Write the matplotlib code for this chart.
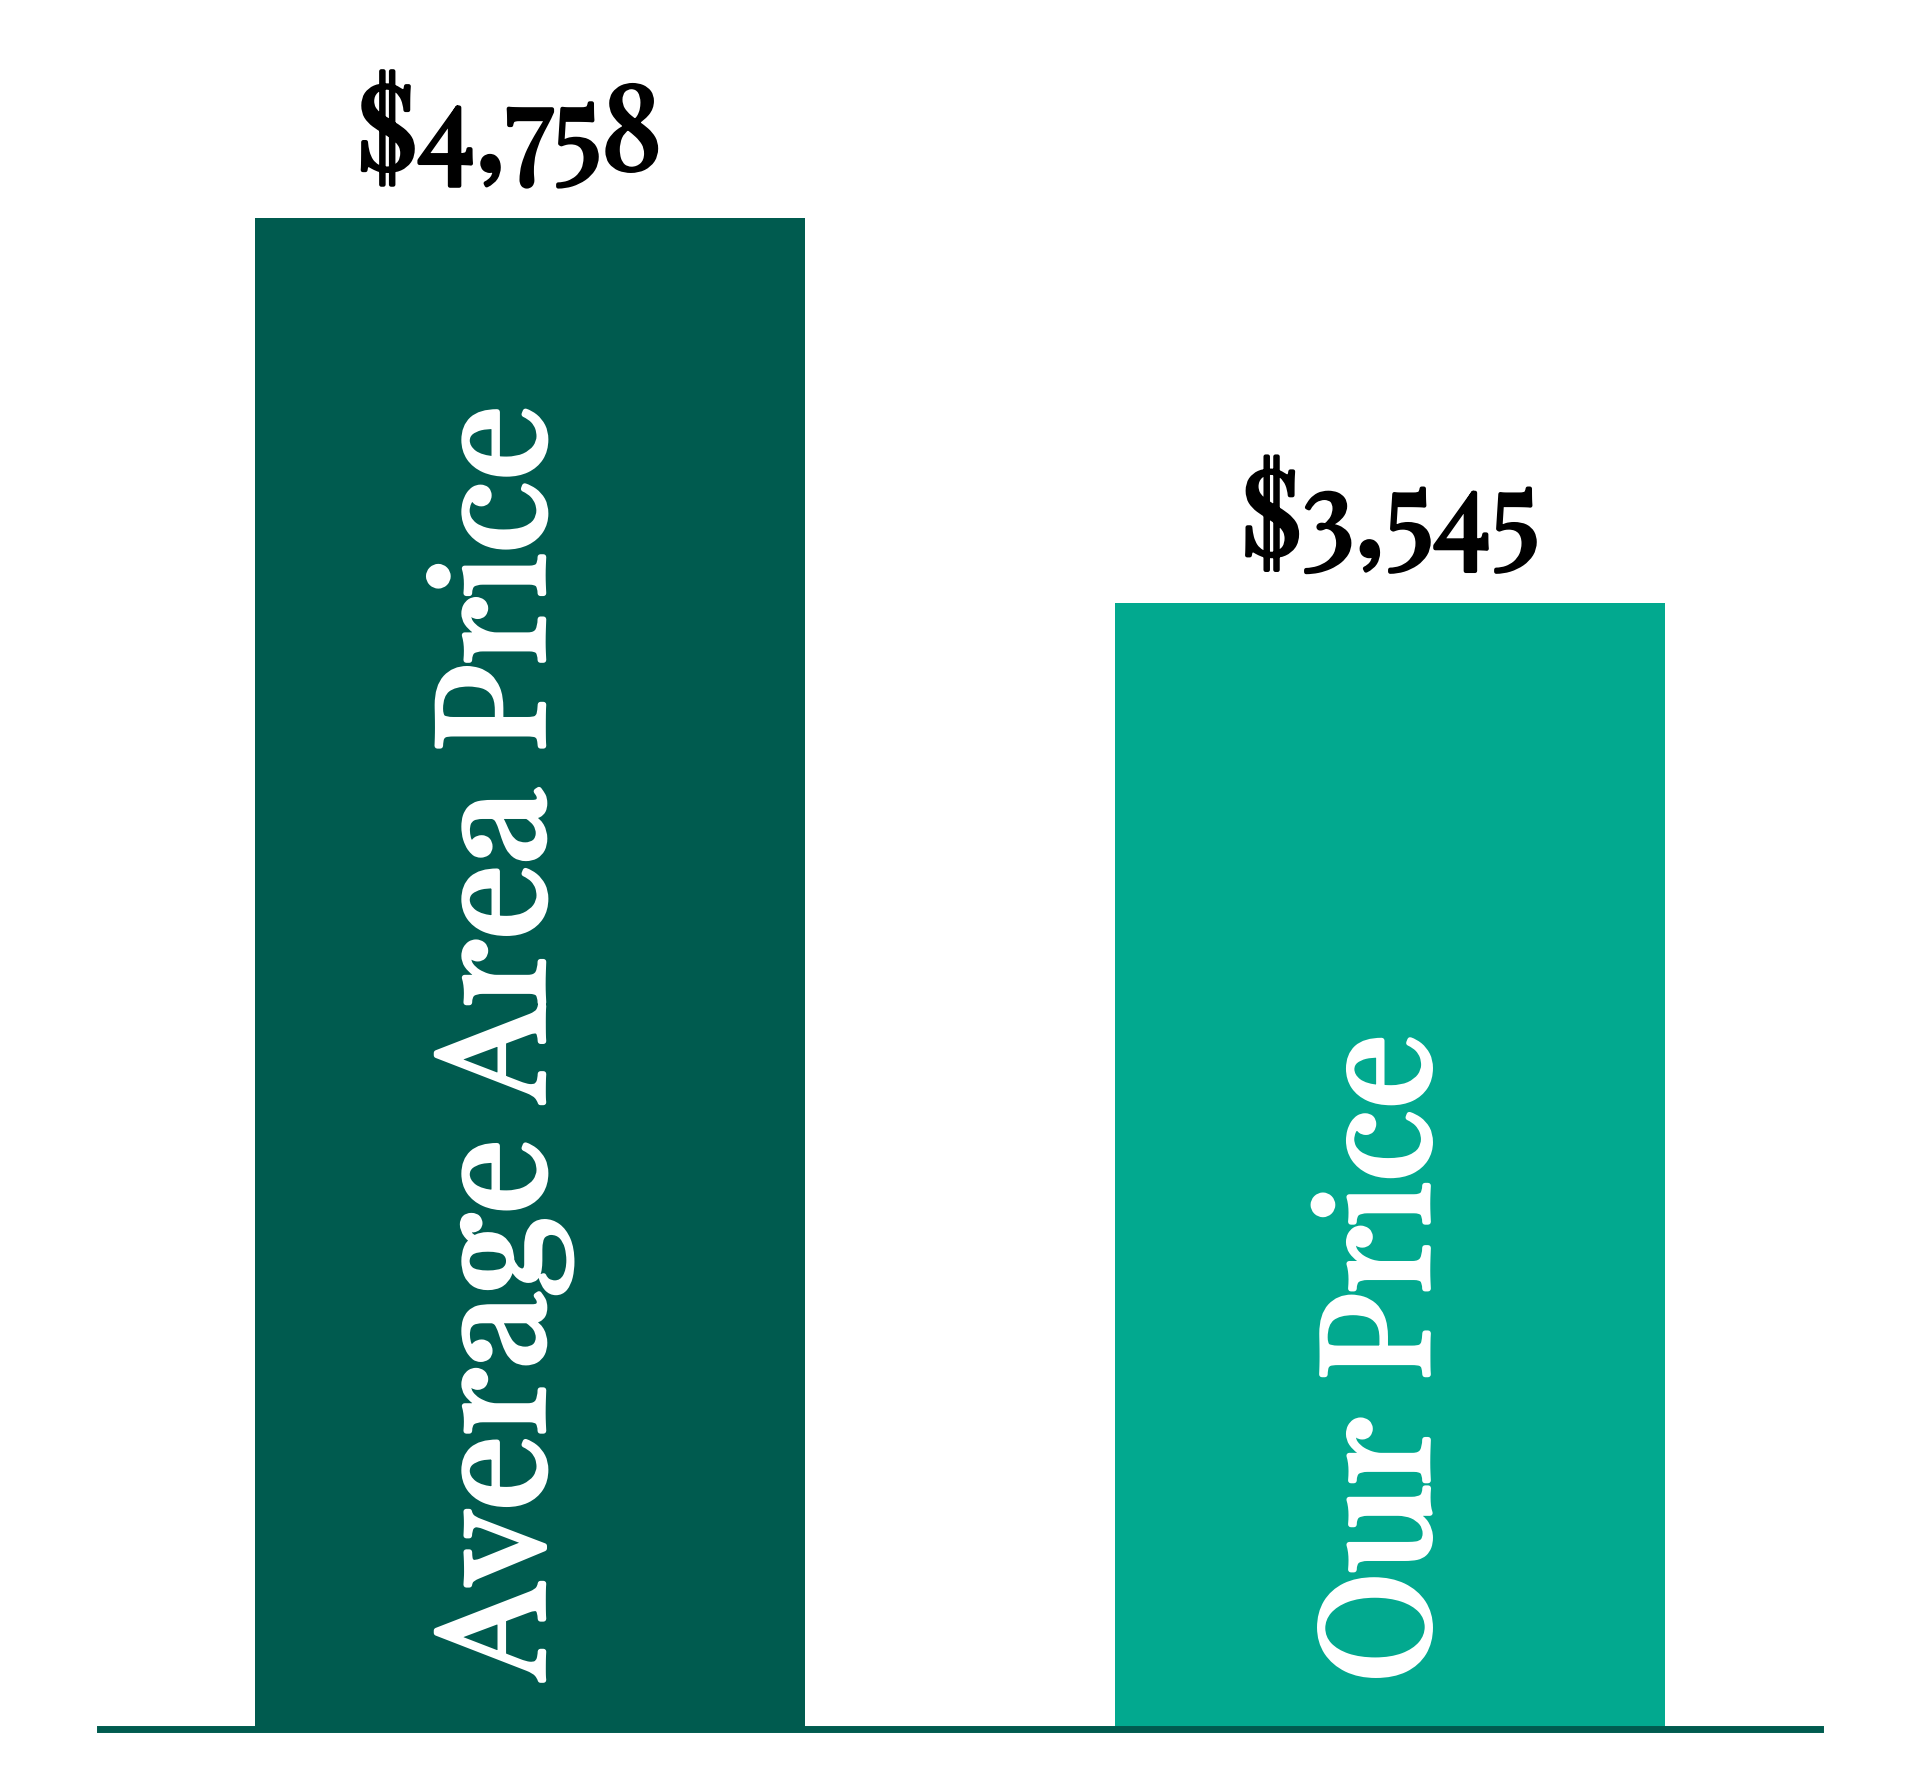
import matplotlib
matplotlib.use("Agg")
import matplotlib.pyplot as plt
import matplotlib.patheffects as pe

# chart data
categories = ["Average Area Price", "Our Price"]
prices = [4758, 3545]
value_labels = ["$4,758", "$3,545"]
bar_colors = ["#005b4f", "#02a98f"]

FONT = "Playfair Display"

fig = plt.figure(figsize=(19.2, 17.92), dpi=100)
ax = fig.add_axes([100 / 1920, 63 / 1792, 1720 / 1920, 1 - 63 / 1792])

x = list(range(len(categories)))
ax.bar(x, prices, width=0.64, color=bar_colors, zorder=1)

ax.set_xlim(-0.5, 1.5)
ax.set_ylim(0, 5444)

# the installed Playfair is the regular cut, so thicken it with a stroke
def bold(color, w):
    return [pe.withStroke(linewidth=w, foreground=color)]

# value labels above the bars
label_dx = [-15, 0]
for xi, val, lab, dx in zip(x, prices, value_labels, label_dx):
    ax.annotate(lab, (xi, val), xytext=(dx, 35), textcoords="offset points",
                ha="center", va="baseline", fontsize=84, family=FONT,
                color="black", path_effects=bold("black", 3))

# category names written up inside the bars
name_dx = [-22, -5]
name_dy = [36, 33]
for xi, cat, dx, dy in zip(x, categories, name_dx, name_dy):
    ax.annotate(cat, (xi, 0), xytext=(dx, dy), textcoords="offset points",
                rotation=90, rotation_mode="anchor", ha="left", va="center",
                fontsize=108, family=FONT, color="white",
                path_effects=bold("white", 4))

for side in ["top", "left", "right"]:
    ax.spines[side].set_visible(False)
ax.spines["bottom"].set_color("#005b4f")
ax.spines["bottom"].set_linewidth(5)
ax.spines["bottom"].set_zorder(3)
ax.set_xticks([])
ax.set_yticks([])

fig.savefig("out.png", dpi=100, facecolor="white")
